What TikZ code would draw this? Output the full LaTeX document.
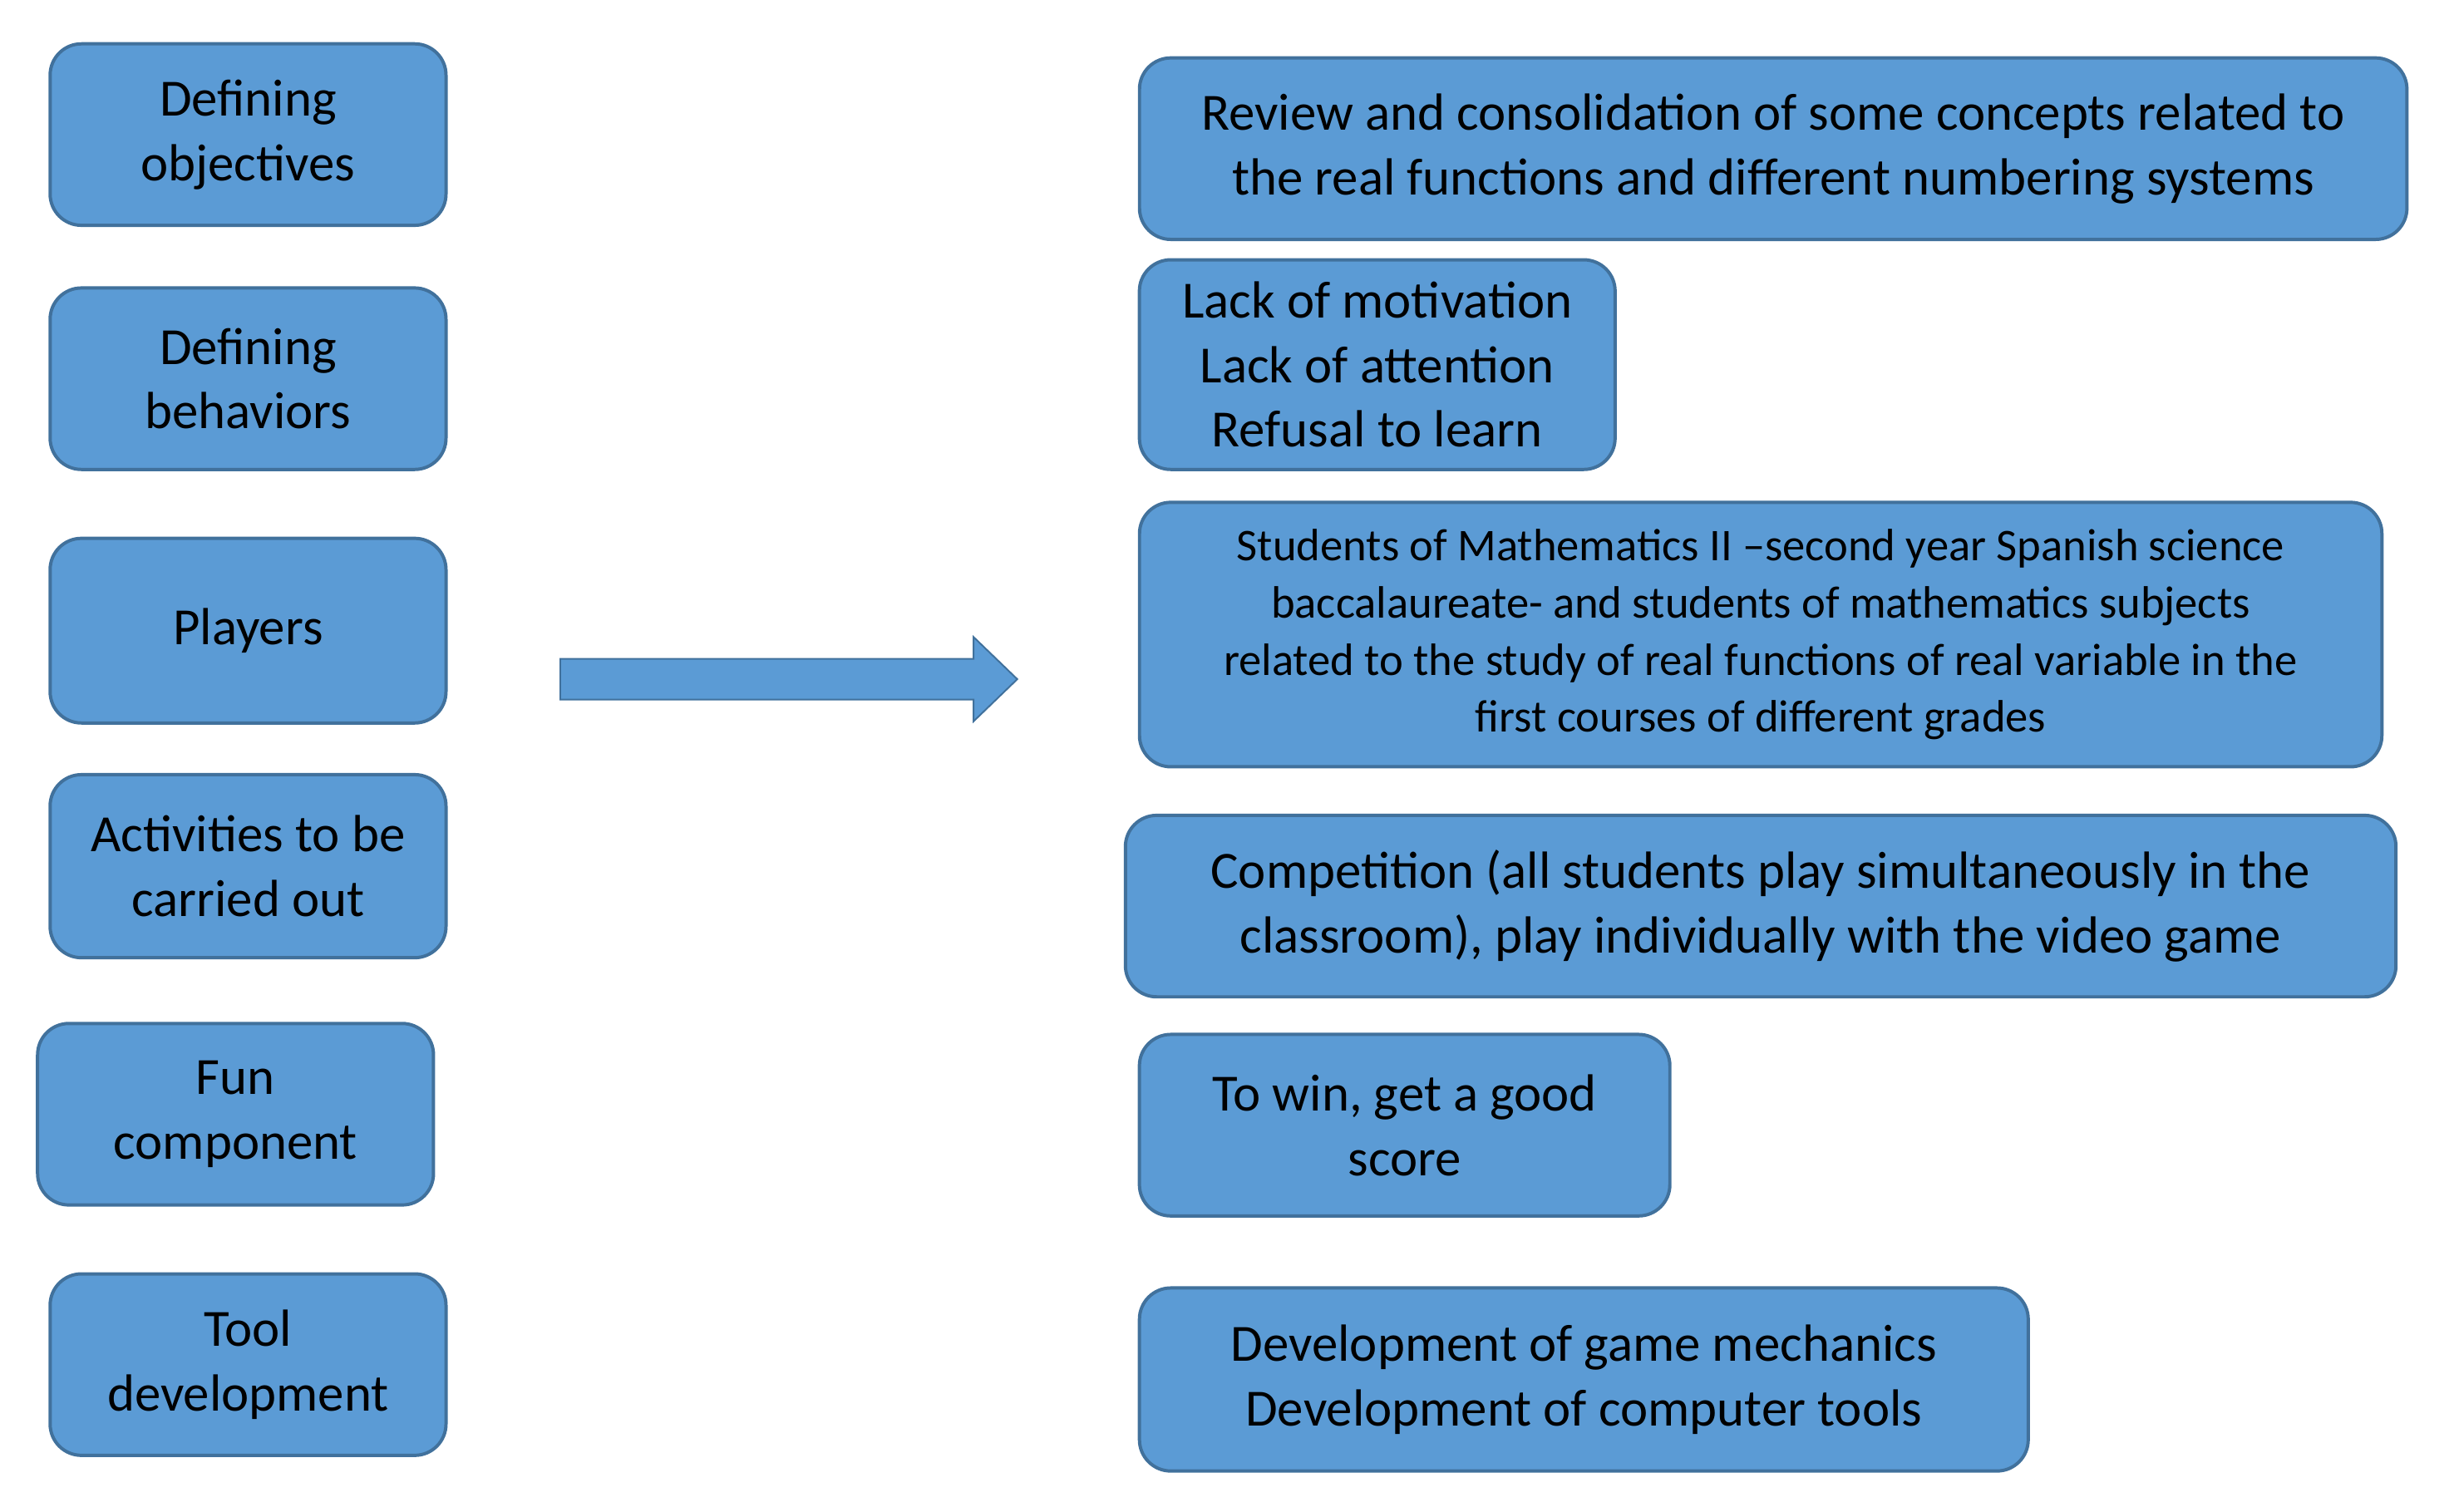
\documentclass[tikz,border=0pt]{standalone}
\usepackage{fontspec}
\setmainfont{Carlito}
\begin{document}
\begin{tikzpicture}[x=0.02cm,y=-0.02cm,
  bx/.style={draw=boxline,line width=1.2pt,fill=boxfill,rounded corners=0.4cm,align=center,inner sep=2pt,
    font=\fontsize{19}{23.5}\selectfont,text=black},
  sbx/.style={bx,font=\fontsize{16.5}{20.8}\selectfont}]
\definecolor{boxfill}{HTML}{5B9BD5}
\definecolor{boxline}{HTML}{41719C}
\useasboundingbox (0,0) rectangle (1568,966);
\node[bx,minimum width=5.06cm,minimum height=2.32cm] (l1) at (158.5,86) {Defining\\objectives};
\node[bx,minimum width=5.06cm,minimum height=2.32cm] (l2) at (158.5,242) {Defining\\behaviors};
\node[bx,minimum width=5.06cm,minimum height=2.36cm] (l3) at (158.5,403) {Players};
\node[bx,minimum width=5.06cm,minimum height=2.34cm] (l4) at (158.5,553.5) {Activities to be\\carried out};
\node[bx,minimum width=5.06cm,minimum height=2.32cm] (l5) at (150.5,712) {Fun\\component};
\node[bx,minimum width=5.06cm,minimum height=2.32cm] (l6) at (158.5,872) {Tool\\development};
\fill[boxfill,draw=boxline,line width=0.6pt] (358,421) -- (622,421) -- (622,407) -- (650,434) -- (622,461) -- (622,447) -- (358,447) -- cycle;
\node[bx,minimum width=16.2cm,minimum height=2.32cm] (r1) at (1133,95) {Review and consolidation of some concepts related to\\the real functions and different numbering systems};
\node[bx,minimum width=6.08cm,minimum height=2.68cm] (r2) at (880,233) {Lack of motivation\\Lack of attention\\Refusal to learn};
\node[sbx,minimum width=15.88cm,minimum height=3.38cm] (r3) at (1125,405.5) {Students of Mathematics II --second year Spanish science\\baccalaureate- and students of mathematics subjects\\related to the study of real functions of real variable in the\\first courses of different grades};
\node[bx,minimum width=16.24cm,minimum height=2.32cm] (r4) at (1125,579) {Competition (all students play simultaneously in the\\classroom), play individually with the video game};
\node[bx,minimum width=6.78cm,minimum height=2.32cm] (r5) at (897.5,719) {To win, get a good\\score};
\node[bx,minimum width=11.36cm,minimum height=2.34cm] (r6) at (1012,881.5) {Development of game mechanics\\Development of computer tools};
\end{tikzpicture}
\end{document}
